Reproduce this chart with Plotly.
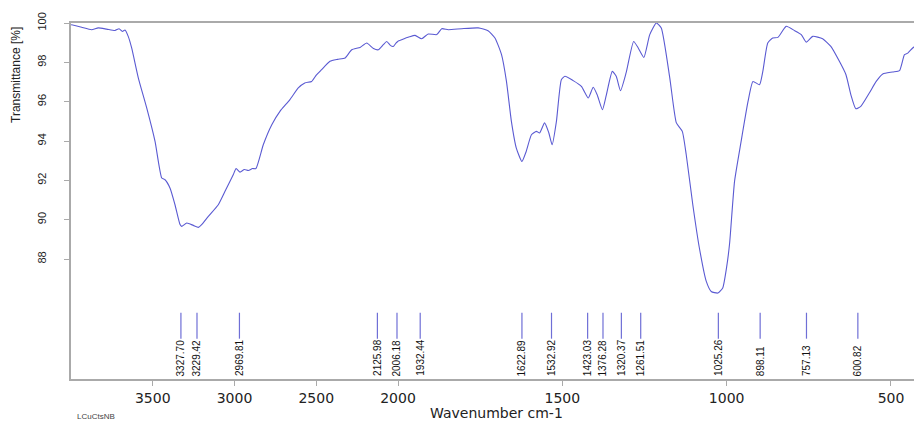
import plotly.graph_objects as go

# FTIR spectrum (wavenumber in cm-1, transmittance in %)
wavenumber = [4000, 3996, 3935, 3874, 3833, 3782, 3731, 3706, 3686, 3670, 3650, 3629,
              3588, 3537, 3486, 3445, 3425, 3394, 3364, 3333, 3323, 3292, 3252, 3221,
              3201, 3160, 3099, 3058, 3007, 2990, 2966, 2940, 2915, 2890, 2869, 2824,
              2772, 2722, 2661, 2610, 2570, 2528, 2500, 2467, 2416, 2370, 2324, 2283,
              2232, 2191, 2150, 2120, 2090, 2069, 2045, 2029, 2010, 1989, 1965, 1948,
              1928, 1908, 1882, 1867, 1847, 1806, 1756, 1726, 1705, 1685, 1670, 1655,
              1640, 1623, 1610, 1594, 1579, 1569, 1554, 1541, 1531, 1518, 1503, 1492,
              1467, 1442, 1421, 1406, 1394, 1378, 1366, 1348, 1336, 1323, 1306, 1283,
              1269, 1252, 1234, 1214, 1199, 1173, 1153, 1135, 1123, 1103, 1083, 1062,
              1047, 1027, 1012, 1000, 991, 976, 956, 935, 920, 900, 890, 875,
              860, 844, 819, 793, 773, 758, 738, 708, 683, 657, 637, 622,
              607, 592, 566, 545, 525, 495, 474, 459, 449, 434, 420]
transmittance = [99.9, 99.91, 99.78, 99.66, 99.75, 99.69, 99.62, 99.71, 99.57, 99.64, 99.32, 98.73,
                 97.2, 95.68, 93.98, 92.12, 92.03, 91.6, 90.76, 89.75, 89.66, 89.83, 89.71, 89.61,
                 89.75, 90.17, 90.76, 91.44, 92.3, 92.6, 92.42, 92.55, 92.5, 92.6, 92.6, 93.81,
                 94.83, 95.51, 96.1, 96.7, 96.95, 97.03, 97.35, 97.63, 98.05, 98.15, 98.22, 98.64,
                 98.76, 98.98, 98.7, 98.64, 98.9, 99.06, 98.85, 98.81, 99.0, 99.15, 99.3, 99.37,
                 99.2, 99.44, 99.41, 99.71, 99.66, 99.71, 99.75, 99.61, 99.24, 98.39, 97.03, 95.0,
                 93.64, 92.96, 93.47, 94.32, 94.49, 94.41, 94.92, 94.41, 93.81, 95.0, 97.12, 97.29,
                 97.07, 96.78, 96.19, 96.73, 96.35, 95.59, 96.35, 97.54, 97.29, 96.56, 97.46, 99.06,
                 98.73, 98.25, 99.41, 100.0, 99.75, 97.2, 94.92, 94.49, 93.3, 90.76, 88.56, 86.86,
                 86.35, 86.27, 86.53, 87.6, 88.8, 91.95, 93.98, 96.01, 97.03, 96.86, 97.54, 98.98,
                 99.24, 99.27, 99.83, 99.61, 99.41, 99.03, 99.32, 99.2, 98.81, 98.05, 97.37, 96.35,
                 95.64, 95.76, 96.44, 97.03, 97.41, 97.51, 97.58, 98.39, 98.47, 98.73, 98.9]

peaks = [3327.70, 3229.42, 2969.81, 2125.98, 2006.18, 1932.44, 1622.89, 1532.92,
         1423.03, 1376.28, 1320.37, 1261.51, 1025.26, 898.11, 757.13, 600.82]
peak_top = 85.27
peak_bottom = 83.95
label_y = 82.0

y_ticks = [88, 90, 92, 94, 96, 98, 100]
x_ticks_high = [3500, 3000, 2500, 2000]
x_ticks_low = [1500, 1000, 500]

line_col = "#5a5ad2"
peak_col = "#6f6fd6"
axis_col = "#aaaaaa"
split = 0.3879

fig = go.Figure()

peak_x, peak_y = [], []
for p in peaks:
    peak_x += [p, p, None]
    peak_y += [peak_top, peak_bottom, None]

# same data on both axes; each subplot clips to its own wavenumber range
for xa in ["x", "x2"]:
    fig.add_trace(go.Scatter(x=wavenumber, y=transmittance, mode="lines", xaxis=xa, yaxis="y",
                             line=dict(color=line_col, width=1.1, shape="spline", smoothing=0.5),
                             showlegend=False, hoverinfo="skip"))
    fig.add_trace(go.Scatter(x=peak_x, y=peak_y, mode="lines", xaxis=xa, yaxis="y",
                             line=dict(color=peak_col, width=1.2),
                             showlegend=False, hoverinfo="skip"))

for p in peaks:
    fig.add_annotation(x=p, y=label_y, xref="x" if p > 2000 else "x2", yref="y",
                       text=f"{p:.2f}", textangle=-90, showarrow=False,
                       xanchor="center", yanchor="bottom", borderpad=0,
                       font=dict(family="Liberation Sans Narrow, Liberation Sans, Arial", size=10, color="#111111"))

axis_common = dict(showline=True, linecolor=axis_col, linewidth=2, mirror=True, automargin=False,
                   ticks="outside", ticklen=5, tickcolor=axis_col, showgrid=False, zeroline=False,
                   tickfont=dict(family="DejaVu Sans", size=14, color="#222222"))

fig.update_layout(
    width=914, height=421,
    margin=dict(l=71, r=0, t=23, b=42),
    paper_bgcolor="white", plot_bgcolor="white",
    xaxis=dict(domain=[0, split], range=[4000, 2000], tickvals=x_ticks_high, anchor="y", **axis_common),
    xaxis2=dict(domain=[split, 1], range=[2000, 430], tickvals=x_ticks_low, anchor="y", **axis_common),
    yaxis=dict(range=[81.9, 100], tickvals=y_ticks, tickangle=-90, anchor="x", automargin=False,
               showline=True, linecolor=axis_col, linewidth=2, ticks="outside", ticklen=5,
               tickcolor=axis_col, showgrid=False, zeroline=False, ticklabelstandoff=14,
               tickfont=dict(family="Liberation Sans", size=11, color="#222222")),
)

fig.add_annotation(x=-0.066, y=0.855, xref="paper", yref="paper", text="Transmittance [%]",
                   textangle=-90, showarrow=False, xanchor="center", yanchor="middle",
                   font=dict(family="Liberation Sans", size=12, color="#222222"))
fig.add_annotation(x=0.505, y=-0.068, xref="paper", yref="paper", text="Wavenumber cm-1",
                   showarrow=False, xanchor="center", yanchor="top",
                   font=dict(family="DejaVu Sans", size=14, color="#222222"))
fig.add_annotation(x=0.005, y=-0.088, xref="paper", yref="paper", text="LCuCtsNB",
                   showarrow=False, xanchor="left", yanchor="top",
                   font=dict(family="Liberation Sans", size=8, color="#444444"))

# drop the default 8px page margin so the figure sits at the window's corner
fig.write_html("out.html", config={"displayModeBar": False},
               post_script="document.body.style.margin='0';")
